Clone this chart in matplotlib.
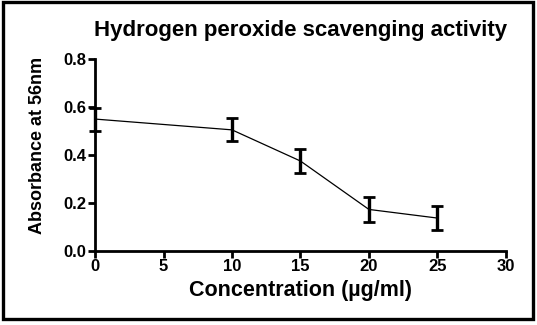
import matplotlib.pyplot as plt
from matplotlib.patches import Rectangle

plt.rcParams['font.family'] = ['Liberation Sans', 'DejaVu Sans']
plt.rcParams['font.weight'] = 'bold'

# H2O2 scavenging assay readings
conc = [0, 10, 15, 20, 25]
absorb = [0.55, 0.505, 0.375, 0.173, 0.137]
sem = [0.048, 0.048, 0.05, 0.051, 0.05]
xticks = [0, 5, 10, 15, 20, 25, 30]
yticks = [0.0, 0.2, 0.4, 0.6, 0.8]

fig = plt.figure(figsize=(5.37, 3.25), dpi=100)
ax = fig.add_axes([0.177, 0.228, 0.765, 0.59])

ax.errorbar(conc, absorb, yerr=sem, color='black', lw=0.9,
            elinewidth=2.4, capsize=4.5, capthick=2, clip_on=False, zorder=3)

ax.set_xlim(0, 30)
ax.set_ylim(0, 0.8)
ax.set_xticks(xticks)
ax.set_yticks(yticks)
ax.set_yticklabels(['%.1f' % v for v in yticks])
ax.tick_params(direction='out', length=5, width=2, labelsize=12, pad=1)
for lab in ax.get_xticklabels() + ax.get_yticklabels():
    lab.set_fontweight('bold')

for side in ['top', 'right']:
    ax.spines[side].set_visible(False)
for side in ['left', 'bottom']:
    ax.spines[side].set_linewidth(2)

ax.set_xlabel('Concentration (\u00b5g/ml)', fontsize=15.5, fontweight='bold', labelpad=4)
ax.set_ylabel('Absorbance at 56nm', fontsize=13, fontweight='bold')
ax.yaxis.set_label_coords(-0.12, 0.55)
fig.text(0.56, 0.905, 'Hydrogen peroxide scavenging activity', ha='center', va='center',
         fontsize=16, fontweight='bold')

# frame round the whole figure
fig.patches.append(Rectangle((0.005, 0.018), 0.988, 0.975, transform=fig.transFigure,
                             fill=False, edgecolor='black', lw=2.4))

fig.savefig('out.png', dpi=100)
